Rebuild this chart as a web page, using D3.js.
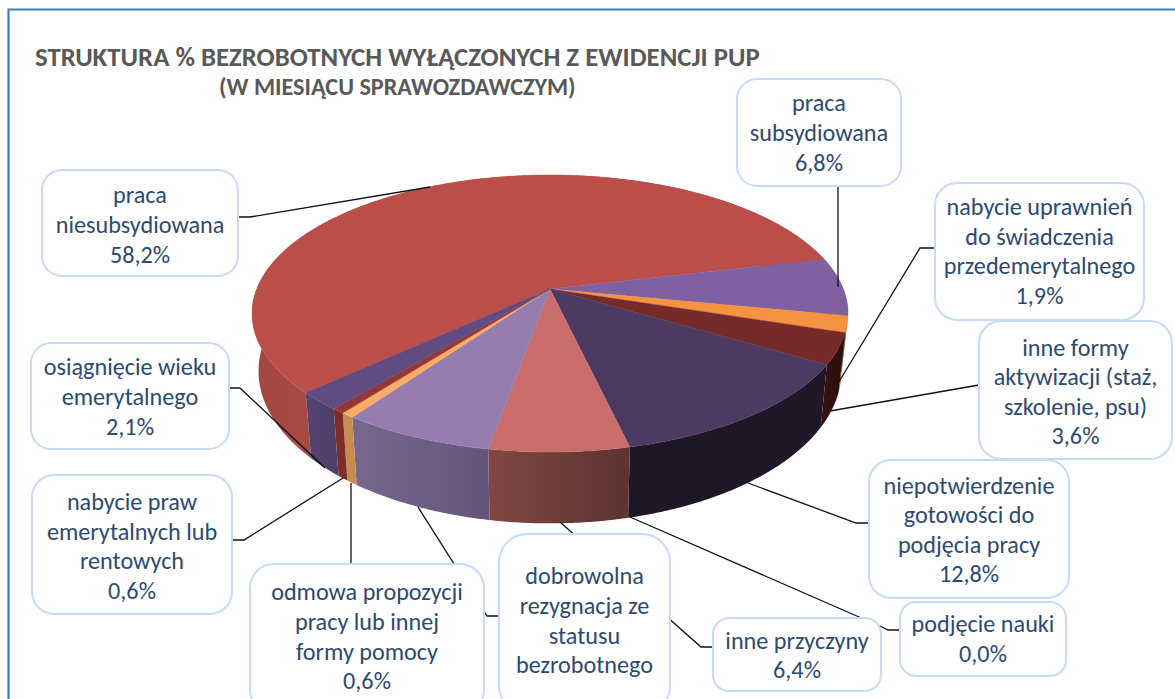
<!DOCTYPE html>
<html><head><meta charset="utf-8">
<script src="https://cdn.jsdelivr.net/npm/d3@7"></script>
<style>html,body{margin:0;padding:0;background:#fff;overflow:hidden}svg{display:block}</style>
</head><body><svg id="c" width="1175" height="699"></svg>
<script>
// --- data ---
const categories = ["praca niesubsydiowana","praca subsydiowana","nabycie uprawnień do świadczenia przedemerytalnego","inne formy aktywizacji (staż, szkolenie, psu)","niepotwierdzenie gotowości do podjęcia pracy","podjęcie nauki","inne przyczyny","dobrowolna rezygnacja ze statusu bezrobotnego","odmowa propozycji pracy lub innej formy pomocy","nabycie praw emerytalnych lub rentowych","osiągnięcie wieku emerytalnego"];
const values = [58.2,6.8,1.9,3.6,12.8,0.0,6.4,7.0,0.6,0.6,2.1];
const labelLines = [
 ["praca","niesubsydiowana","58,2%"],
 ["praca","subsydiowana","6,8%"],
 ["nabycie uprawnień","do świadczenia","przedemerytalnego","1,9%"],
 ["inne formy","aktywizacji (staż,","szkolenie, psu)","3,6%"],
 ["niepotwierdzenie","gotowości do","podjęcia pracy","12,8%"],
 ["podjęcie nauki","0,0%"],
 ["inne przyczyny","6,4%"],
 ["dobrowolna","rezygnacja ze","statusu","bezrobotnego"],
 ["odmowa propozycji","pracy lub innej","formy pomocy","0,6%"],
 ["nabycie praw","emerytalnych lub","rentowych","0,6%"],
 ["osiągnięcie wieku","emerytalnego","2,1%"]];
const titleLines = ["STRUKTURA % BEZROBOTNYCH WYŁĄCZONYCH Z EWIDENCJI PUP","(W MIESIĄCU SPRAWOZDAWCZYM)"];
// --- styles / layout ---
const faceColors = ["#bc4e4a","#7f60a0","#f59340","#772a2a","#4c3a60","#8ea9db","#c96e6d","#967db0","#f9ac66","#953735","#624a82"];
const wallFrom = ["#a2463f","#5f4878","#b06a2c","#341210","#1f1628","#555555","#7f4743","#78678e","#c88b50","#7e2c2c","#564470"];
const wallTo   = ["#a84a44","#5f4878","#b06a2c","#2c0f0d","#1f1628","#555555","#5c3330","#63557a","#c88b50","#7e2c2c","#4e3e68"];
// box: [x,y,w,h,r], leader polylines drawn under the boxes
const boxes = [[42,170,196,106,20],[737,79,164,107,20],[935,183,209,137,22],[979,321,193,138,22],[869,460,200,138,22],[900,602,166,74,16],[713,618,168,73,16],[499,534,171,180,28],[250,564,234,150,24],[32,475,200,139,22],[31,343,198,106,20]];
const textShift = [2,0.5,0,2,1,0,1,12,-2,2,1];
const leaders = [
 [[430,187],[250,217],[238,217]],
 [[838,287],[838,186]],
 [[837,385],[920,248],[935,248]],
 [[830,411],[979,385]],
 [[748,483],[856,523],[869,523]],
 [[630,517],[882,627],[888,630],[900,630]],
 [[560,522],[701,647],[713,647]],
 [[418,507],[487,616],[499,616]],
 [[351,483],[351,565]],
 [[343,478],[244,540],[232,540]],
 [[325,468],[240,388],[230,388]]];
const textFont = "Carlito, Lato, sans-serif";
const svg = d3.select("#c");
// frame
svg.append("path").attr("d","M1175 9.5H8.5V699").attr("fill","none").attr("stroke","#3f7fbf").attr("stroke-width",2.2);
// title
svg.append("text").text(titleLines[0]).attr("x",35).attr("y",66).attr("font-family",textFont).attr("font-weight",700).attr("font-size",26.8).attr("fill","#595959");
svg.append("text").text(titleLines[1]).attr("x",219).attr("y",95).attr("font-family",textFont).attr("font-weight",700).attr("font-size",24.2).attr("fill","#595959");
// pie
const deg = Math.PI/180;
const pie = d3.pie().sort(null).value(d=>d).startAngle(227.1*deg).endAngle((227.1+360)*deg);
const arcs = pie(values);
// perspective disc: top plane, bottom plane
const P = {cx:550, cy:289, f:293.3, g:134.2, k:0.177};
function topPt(a){const u=Math.sin(a),v=-Math.cos(a),w=1-P.k*v;return [P.cx+P.f*u/w,P.cy+P.g*v/w];}
function botPt(a){const t=topPt(a);return [P.cx+0.978*(t[0]-P.cx),344+1.1*(t[1]-P.cy)];}
const sample = d=>{const n=Math.max(2,Math.ceil((d.endAngle-d.startAngle)/(0.5*deg)));return d3.range(n+1).map(i=>d.startAngle+(d.endAngle-d.startAngle)*i/n);};
const line = d3.line();
const defs = svg.append("defs");
const pieG = svg.append("g");
arcs.forEach((d,i)=>{
  if(d.value<=0) return;
  const as = sample(d);
  const vis = as.filter(a=>{const m=((a/deg)%360+360)%360;return m>=85&&m<=275;});
  const xs = (vis.length?vis:as).flatMap(a=>[topPt(a)[0],botPt(a)[0]]);
  const g = defs.append("linearGradient").attr("id","w"+i).attr("gradientUnits","userSpaceOnUse")
     .attr("x1",d3.min(xs)).attr("x2",d3.max(xs)).attr("y1",0).attr("y2",0);
  g.append("stop").attr("offset",0).attr("stop-color",wallFrom[i]);
  g.append("stop").attr("offset",1).attr("stop-color",wallTo[i]);
  pieG.append("path").attr("d",line(as.map(topPt).concat(as.slice().reverse().map(botPt)))+"Z").attr("fill",`url(#w${i})`);
});
arcs.forEach((d,i)=>{
  if(d.value<=0) return;
  pieG.append("path").attr("d",line([[P.cx,P.cy]].concat(sample(d).map(topPt)))+"Z")
    .attr("fill",faceColors[i]).attr("stroke",faceColors[i]).attr("stroke-width",0.4);
});
// leaders
svg.append("g").selectAll("path").data(leaders).join("path").attr("d",d=>line(d)).attr("fill","none").attr("stroke","#111").attr("stroke-width",1.3);
// label boxes
const lineH = 29.6;
boxes.forEach((b,i)=>{
  const g = svg.append("g");
  g.append("rect").attr("x",b[0]).attr("y",b[1]).attr("width",b[2]).attr("height",b[3]).attr("rx",b[4]).attr("fill","#fff").attr("stroke","#c6dbf7").attr("stroke-width",2);
  const lines = labelLines[i];
  const cx = b[0]+b[2]/2;
  const boxH = i===7||i===8 ? lines.length*lineH+31 : b[3];
  const y0 = b[1]+boxH/2-(lines.length-1)*lineH/2+8+textShift[i];
  g.selectAll("text").data(lines).join("text").text(t=>t).attr("x",cx).attr("y",(t,j)=>y0+j*lineH)
    .attr("text-anchor","middle").attr("font-family",textFont).attr("font-size",24.2).attr("fill","#2c4a72");
});
</script></body></html>
